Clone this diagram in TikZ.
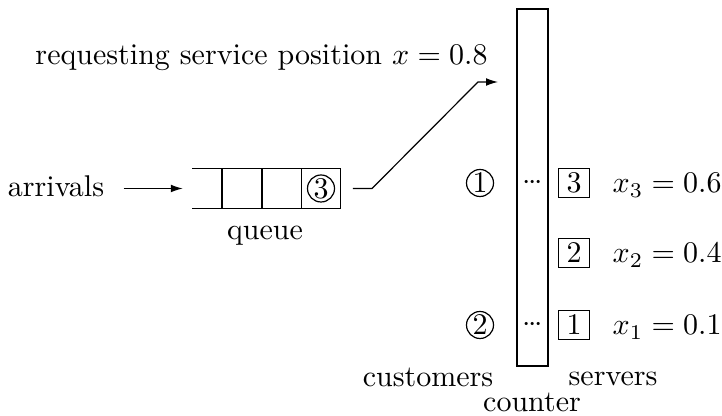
\documentclass[tikz,border=0pt]{standalone}
\usetikzlibrary{arrows.meta}
\begin{document}
\begin{tikzpicture}[x=0.3333pt,y=-0.3333pt,
  lbl/.style={inner sep=0pt},
  circnum/.style={circle,draw,line width=0.4pt,minimum size=9pt,inner sep=0pt},
  boxnum/.style={draw,line width=0.4pt,minimum width=10.4pt,minimum height=9.6pt,inner sep=0pt},
  arr/.style={line width=0.4pt,-{Latex[length=4pt,width=2.6pt]}},
  qline/.style={line width=0.4pt},
  dotsnode/.style={inner sep=0pt,anchor=base},
  counterbox/.style={draw,line width=0.8pt,minimum width=10.2pt,minimum height=119pt,inner sep=0pt}
]
\newcommand{\mydots}{${\cdot}\mkern-1.5mu{\cdot}\mkern-1.5mu{\cdot}$}
\useasboundingbox (0,0) rectangle (722,416);

% arrivals and queue
\node[lbl,anchor=base] (arrivals) at (56,197) {arrivals};
\node[minimum width=49pt,minimum height=13pt,inner sep=0pt] (queue) at (266.5,188.5) {};
\draw[qline] (queue.north west) -- (queue.north east) -- (queue.south east) -- (queue.south west);
\foreach \x in {222,262,301.5} \draw[qline] (\x,169) -- (\x,208);
\node[circnum] (q3) at (321,188.5) {3};
\node[lbl,anchor=base] (queuelbl) at (265,240) {queue};
\draw[arr] ([xshift=6.3pt]arrivals.east |- queue.west) -- ([xshift=-3.2pt]queue.west);

% request connector
\coordinate (bendA) at (372,188.5);
\coordinate (bendB) at (478,82);
\coordinate (tip) at (498,82);
\draw[arr] ([xshift=4.1pt]queue.east) -- (bendA) -- (bendB) -- (tip);
\node[lbl] (req) at (261.5,58) {requesting service position $x=0.8$};

% counter
\node[counterbox] (counter) at (532.5,187.5) {};
\node[lbl,anchor=base] (counterlbl) at (532,412) {counter};
\node[lbl,anchor=base] (customers) at (428,387) {customers};
\node[lbl,anchor=base] (servers) at (613,386) {servers};

% row 1 (x = 0.6)
\node[circnum] (cust1) at (480,183) {1};
\node[dotsnode] (dotsA) at (532.5,189.5) {\mydots};
\node[boxnum] (srv3) at (574,183) {3};
\node[lbl,anchor=base west] (x3) at (612,192.7) {$x_3=0.6$};

% row 2 (x = 0.4)
\node[boxnum] (srv2) at (574,253) {2};
\node[lbl,anchor=base west] (x2) at (612,262.7) {$x_2=0.4$};

% row 3 (x = 0.1)
\node[circnum] (cust2) at (480,325) {2};
\node[dotsnode] (dotsB) at (532.5,331.5) {\mydots};
\node[boxnum] (srv1) at (574,325) {1};
\node[lbl,anchor=base west] (x1) at (612,334.7) {$x_1=0.1$};
\end{tikzpicture}
\end{document}
